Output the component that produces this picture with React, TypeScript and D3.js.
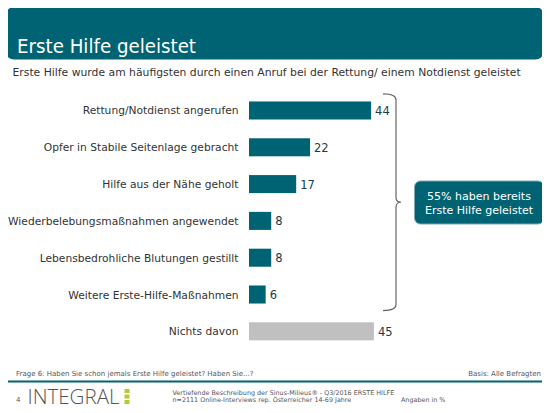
import React from "react";
import * as d3 from "d3";

const categories = [
  "Rettung/Notdienst angerufen",
  "Opfer in Stabile Seitenlage gebracht",
  "Hilfe aus der Nähe geholt",
  "Wiederbelebungsmaßnahmen angewendet",
  "Lebensbedrohliche Blutungen gestillt",
  "Weitere Erste-Hilfe-Maßnahmen",
  "Nichts davon",
];
const values = [44, 22, 17, 8, 8, 6, 45];
const isNone = [false, false, false, false, false, false, true];

const TEAL = "#006373";
const GRAY = "#c0c0c0";
const FONT = "'DejaVu Sans', Verdana, sans-serif";

export default function App() {
  const W = 550, H = 413;
  const x = d3.scaleLinear().domain([0, 45]).range([249, 373.9]);
  const y = d3.scaleBand<string>().domain(categories).range([82.7, 359.1]).padding(0.51);
  const bw = y.bandwidth();

  const firstTop = y(categories[0])! - 7.5;
  const lastBottom = y(categories[5])! + bw + 7;
  const mid = (firstTop + lastBottom) / 2;
  const bx0 = 383, bx1 = 396, tip = 401;
  const brace = `M${bx0},${firstTop} Q${bx1},${firstTop} ${bx1},${firstTop + 6} L${bx1},${mid - 5} Q${bx1},${mid} ${tip},${mid} Q${bx1},${mid} ${bx1},${mid + 5} L${bx1},${lastBottom - 6} Q${bx1},${lastBottom} ${bx0},${lastBottom}`;

  return (
    <div style={{ margin: -8 }}>
      <svg width={W} height={H} style={{ display: "block", fontFamily: FONT }}>
        <rect x={0} y={0} width={W} height={H} fill="#fff" />
        <rect x={6} y={7} width={537.5} height={52.5} rx={8} fill={TEAL} />
        <text x={17} y={52.5} fontSize={19.5} fill="#fff" textLength={179} lengthAdjust="spacingAndGlyphs">Erste Hilfe geleistet</text>
        <text x={12.5} y={76} fontSize={10.8} fill="#333">
          Erste Hilfe wurde am häufigsten durch einen Anruf bei der Rettung/ einem Notdienst geleistet
        </text>

        {categories.map((c, i) => (
          <g key={c}>
            <text x={238.5} y={y(c)! + bw / 2 + 4} fontSize={10.7} fill="#333" textAnchor="end">{c}</text>
            <rect x={x(0)} y={y(c)} width={x(values[i]) - x(0)} height={bw} fill={isNone[i] ? GRAY : TEAL} />
            <text x={x(values[i]) + 4} y={y(c)! + bw / 2 + 4.5} fontSize={11.5} fill="#1d3b45">{values[i]}</text>
          </g>
        ))}

        <path d={brace} fill="none" stroke="#666" strokeWidth={1.2} />
        <rect x={414.5} y={181} width={129.5} height={43} rx={6} fill={TEAL} stroke="#7fa9b0" strokeWidth={1} />
        <text x={479} y={200} fontSize={11} fill="#fff" textAnchor="middle">55% haben bereits</text>
        <text x={479} y={213.5} fontSize={11} fill="#fff" textAnchor="middle">Erste Hilfe geleistet</text>

        <text x={16} y={376} fontSize={7} fill="#555">Frage 6: Haben Sie schon jemals Erste Hilfe geleistet? Haben Sie...?</text>
        <text x={541} y={376} fontSize={7} fill="#555" textAnchor="end">Basis: Alle Befragten</text>
        <line x1={6} x2={546} y1={381.5} y2={381.5} stroke={TEAL} strokeWidth={2} />

        <text x={16} y={402} fontSize={7} fill="#555">4</text>
        <text x={27.5} y={403.5} fontSize={20} fill="#555" fontFamily="'Open Sans', Lato, sans-serif" fontWeight={300} textLength={92} lengthAdjust="spacingAndGlyphs">INTEGRAL</text>
        <rect x={124.5} y={389} width={5} height={4} fill="#b5c92f" />
        <rect x={124.5} y={394.5} width={5} height={4} fill="#b5c92f" />
        <rect x={124.5} y={400} width={5} height={4} fill="#b5c92f" />
        <text x={172.5} y={395} fontSize={6.4} fill="#555">Vertiefende Beschreibung der Sinus-Milieus® - Q3/2016 ERSTE HILFE</text>
        <text x={172.5} y={402} fontSize={6.4} fill="#555">n=2111 Online-Interviews rep. Österreicher 14-69 Jahre</text>
        <text x={401} y={402} fontSize={6.4} fill="#555">Angaben in %</text>
      </svg>
    </div>
  );
}
